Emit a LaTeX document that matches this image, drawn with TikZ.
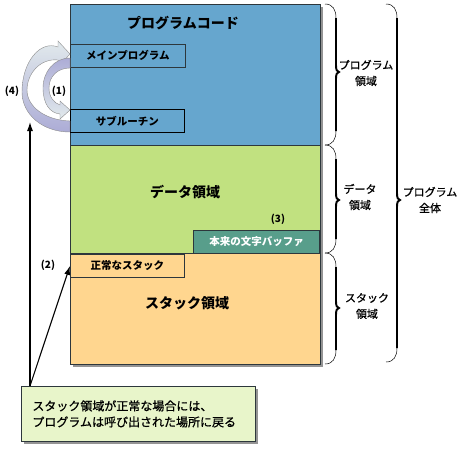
\documentclass[tikz,border=0pt]{standalone}
\usepackage{fontspec}
\setmainfont{Noto Sans CJK JP}
\newfontfamily\semifont{Noto Sans CJK JP}[FakeBold=0.8]
\usetikzlibrary{arrows.meta,calc,shadows}
\definecolor{codeblue}{RGB}{102,166,206}
\definecolor{datagreen}{RGB}{193,225,128}
\definecolor{stackorange}{RGB}{255,214,143}
\definecolor{buffteal}{RGB}{88,158,139}
\definecolor{notegreen}{RGB}{232,245,202}
\definecolor{edgegray}{RGB}{45,55,60}
\definecolor{ribbonlight}{RGB}{226,234,236}
\definecolor{ribbonpurple}{RGB}{172,172,214}
\tikzset{
	areabox/.style={draw=edgegray, line width=0.8pt, minimum height=23pt, inner sep=0pt, font=\fontsize{10.5}{12}\selectfont\bfseries},
	areatitle/.style={font=\fontsize{14}{16}\selectfont\bfseries},
	bracelabel/.style={align=center, font=\fontsize{11}{16}\selectfont\semifont},
	steplabel/.style={font=\fontsize{10}{12}\selectfont\bfseries},
	ribbon/.style={draw=black!45, line width=0.4pt},
	pointer/.style={line width=1.1pt, -{Latex[length=9pt,width=6pt]}},
	boxshadow/.style={drop shadow={shadow xshift=3pt, shadow yshift=-3pt, fill=black!70, opacity=0.6}}
}
\def\sidebrace[#1](#2)(#3:#4:#5){
	\draw[line width=0.5pt, #1] (#2,#3) .. controls (#2+8,#3) and (#2+11,#3+6) .. (#2+11,#3+14);
	\draw[line width=1.9pt, #1] (#2+11,#3+14) -- (#2+11,#5-7) .. controls (#2+11,#5-2) and (#2+12,#5) .. (#2+14,#5) .. controls (#2+12,#5) and (#2+11,#5+2) .. (#2+11,#5+7) -- (#2+11,#4-14);
	\draw[line width=0.5pt, #1] (#2+11,#4-14) .. controls (#2+11,#4-6) and (#2+8,#4) .. (#2,#4);
}

\begin{document}
\begin{tikzpicture}[x=1pt,y=-1pt]
	%%%%% START %%%%%
	\useasboundingbox (0,0) rectangle (460,448);
	
	% memory column
	\fill[codeblue, boxshadow] (70,4) rectangle (320,364);
	\fill[datagreen] (70,145) rectangle (320,253);
	\fill[stackorange] (70,253) rectangle (320,364);
	\draw[edgegray, line width=0.8pt] (70,145) -- (320,145);
	\draw[edgegray, line width=0.8pt] (70,253) -- (320,253);
	\draw[edgegray, line width=1pt] (70,4) rectangle (320,364);
	
	\node[areatitle] (codetitle) at (183,23) {プログラムコード};
	\node[areabox, anchor=north west, minimum width=115pt] (mainprog) at (70,44) {メインプログラム};
	\node[areabox, draw=black, anchor=north west, minimum width=114pt] (subr) at (70,109) {サブルーチン};
	
	\node[areatitle] (datatitle) at (185,192) {データ領域};
	\node[steplabel] (stepthree) at (278,219) {(3)};
	\node[areabox, fill=buffteal, text=white, anchor=north east, minimum width=126pt] (buffer) at (320,230) {本来の文字バッファ};
	
	\node[areabox, fill=stackorange, anchor=north west, minimum width=114pt] (goodstack) at (70,254) {正常なスタック};
	\node[steplabel] (steptwo) at (48,265) {(2)};
	\node[areatitle] (stacktitle) at (187,303) {スタック領域};
	
	% call and return ribbons
	\draw[ribbon, top color=ribbonlight, bottom color=ribbonpurple] (70,132) .. controls (42,132) and (22,114) .. (22,92) .. controls (22,62) and (40,40) .. (58,47) -- (58,41) -- (70,54) -- (58,67) -- (58,60) .. controls (40,58) and (27,74) .. (27,90) .. controls (27,106) and (44,120) .. (70,121) -- cycle;
	\draw[ribbon, top color=ribbonpurple, bottom color=ribbonlight] (70,58) .. controls (54,58) and (43,72) .. (43,88) .. controls (43,104) and (50,113) .. (60,114) -- (60,119) -- (70,110) -- (60,101) -- (60,105) .. controls (54,103) and (49,97) .. (49,88) .. controls (49,76) and (58,68) .. (70,68) -- cycle;
	\node[steplabel] (stepfour) at (12,91) {(4)};
	\node[steplabel] (stepone) at (59,91) {(1)};
	
	% braces
	\sidebrace[](325)(4:145:72)
	\sidebrace[](325)(145:253:200)
	\sidebrace[](325)(253:364:308)
	\sidebrace[](386)(4:362:200)
	\node[bracelabel] (codearea) at (366,73) {プログラム\\領域};
	\node[bracelabel] (dataarea) at (360,197) {データ\\領域};
	\node[bracelabel] (stackarea) at (367,306) {スタック\\領域};
	\node[bracelabel] (wholearea) at (430,200) {プログラム\\全体};
	
	% note
	\node[draw=edgegray, line width=0.8pt, fill=notegreen, boxshadow, anchor=north west, minimum height=55pt, text width=212pt, inner xsep=11pt, align=left, font=\fontsize{12}{16}\selectfont\semifont] (note) at (21,386) {スタック領域が正常な場合には、\\プログラムは呼び出された場所に戻る};
	\coordinate (notefoot) at ($(note.north west)+(9,0)$);
	\coordinate (returnend) at (30,122);
	\draw[pointer] (notefoot) -- (returnend);
	\draw[pointer] (notefoot) -- (goodstack.west);
	
	%%%%% END %%%%%
\end{tikzpicture}
\end{document}
